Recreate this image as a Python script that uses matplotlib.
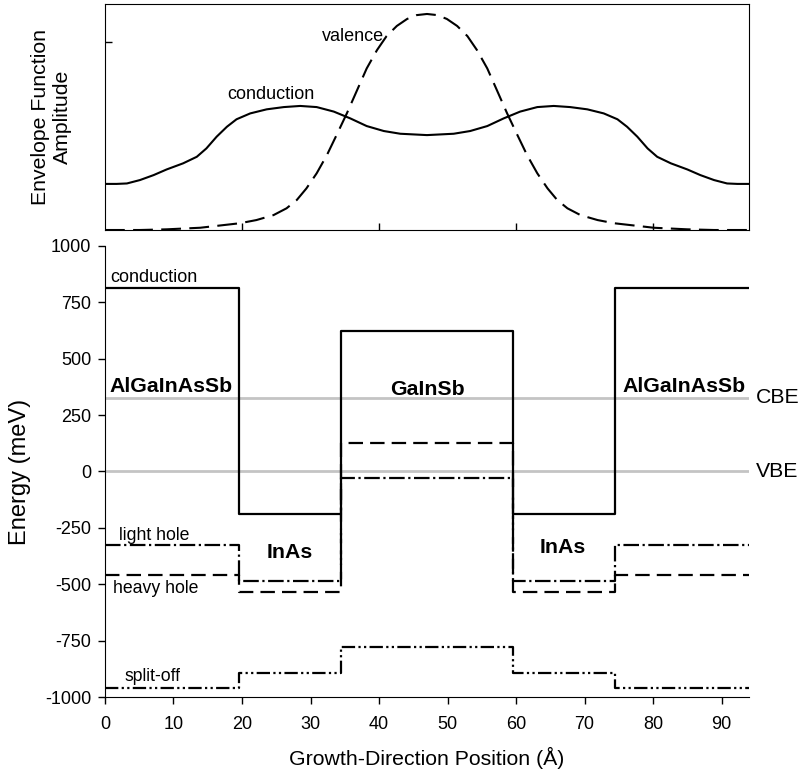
import matplotlib
matplotlib.use('Agg')
import matplotlib.pyplot as plt

plt.rcParams['font.family'] = ['Liberation Sans', 'DejaVu Sans']
plt.rcParams['axes.unicode_minus'] = False

# layer boundaries (Angstrom) and band edges (meV) per layer
bounds = [0, 19.5, 34.5, 59.5, 74.5, 94]
cond = [815, -188, 623, -188, 815]
heavy = [-459, -534, 128, -534, -459]
light = [-326, -484, -29, -484, -326]
split = [-960, -893, -778, -893, -960]
cbe = 326
vbe = 0

# envelope functions
x_cond = [0, 1.7, 3.2, 5.1, 7.1, 9.0, 11.4, 13.4, 14.8, 16.3, 17.8, 19.2, 21.2, 23.6,
          26.1, 28.5, 30.9, 33.4, 35.8, 38.2, 40.7, 43.1, 47.0, 50.9, 53.3, 55.8,
          58.2, 60.6, 63.1, 65.5, 67.9, 70.4, 72.8, 74.8, 76.2, 77.7, 79.2, 80.6,
          82.6, 85.0, 86.9, 88.9, 90.8, 92.3, 94]
a_cond = [0.204, 0.204, 0.206, 0.221, 0.243, 0.268, 0.295, 0.324, 0.361, 0.413,
          0.457, 0.490, 0.516, 0.534, 0.544, 0.549, 0.544, 0.524, 0.494, 0.460,
          0.438, 0.426, 0.420, 0.426, 0.438, 0.460, 0.494, 0.524, 0.544, 0.549,
          0.544, 0.534, 0.516, 0.490, 0.457, 0.413, 0.361, 0.324, 0.295, 0.268,
          0.243, 0.221, 0.206, 0.204, 0.204]
x_val = [0, 5.1, 9.0, 13.9, 19.7, 22.1, 24.6, 26.5, 28.0, 29.4, 30.9, 32.4, 33.8,
         35.3, 36.8, 38.2, 39.7, 41.1, 42.6, 44.1, 45.5, 47.0, 48.5, 49.9, 51.4,
         52.9, 54.3, 55.8, 57.2, 58.7, 60.2, 61.6, 63.1, 64.6, 66.0, 67.5, 69.4,
         71.9, 74.3, 80.1, 85.0, 88.9, 94]
a_val = [0.0, 0.0, 0.003, 0.010, 0.030, 0.044, 0.066, 0.096, 0.133, 0.184, 0.251,
         0.332, 0.420, 0.516, 0.619, 0.715, 0.796, 0.858, 0.903, 0.934, 0.951, 0.956,
         0.951, 0.934, 0.903, 0.858, 0.796, 0.715, 0.619, 0.516, 0.420, 0.332, 0.251,
         0.184, 0.133, 0.096, 0.066, 0.044, 0.030, 0.010, 0.003, 0.0, 0.0]

fig = plt.figure(figsize=(8.02, 7.76), dpi=100)
ax_top = fig.add_axes([0.1309, 0.7036, 0.803, 0.2912])
ax = fig.add_axes([0.1309, 0.1018, 0.803, 0.5812])

# --- upper panel: envelope functions
ax_top.plot(x_cond, a_cond, color='black', lw=1.5)
ax_top.plot(x_val, a_val, color='black', lw=1.5, linestyle=(0, (9.5, 4)))
ax_top.text(24.2, 0.60, 'conduction', fontsize=13, ha='center', va='center')
ax_top.text(36.2, 0.855, 'valence', fontsize=13, ha='center', va='center')
ax_top.set_xlim(0, 94)
ax_top.set_ylim(0, 1)
ax_top.set_xticks([20, 40, 60, 80])
ax_top.set_xticklabels([])
ax_top.set_yticks([0.832])
ax_top.set_yticklabels([])
ax_top.tick_params(direction='in', length=5, width=1)
ax_top.set_ylabel('Envelope Function\nAmplitude', fontsize=15.3, labelpad=20)

# --- lower panel: band edge profile
xs = bounds
ax.axhline(cbe, color='#c4c4c4', lw=2, zorder=1)
ax.axhline(vbe, color='#c4c4c4', lw=2, zorder=1)
ax.plot(xs, cond + [cond[-1]], drawstyle='steps-post', color='black', lw=1.6)
ax.plot(xs, heavy + [heavy[-1]], drawstyle='steps-post', color='black', lw=1.6,
        linestyle=(0, (6.5, 3.2)))
ax.plot(xs, light + [light[-1]], drawstyle='steps-post', color='black', lw=1.6,
        linestyle=(0, (7, 1.6, 1, 1.6)))
ax.plot(xs, split + [split[-1]], drawstyle='steps-post', color='black', lw=1.6,
        linestyle=(0, (6, 1.5, 1, 1.5, 1, 1.5)))

ax.text(0.8, 862, 'conduction', fontsize=13, ha='left', va='center')
ax.text(2.0, -282, 'light hole', fontsize=12.7, ha='left', va='center')
ax.text(1.1, -517, 'heavy hole', fontsize=12.7, ha='left', va='center')
ax.text(2.9, -911, 'split-off', fontsize=12.7, ha='left', va='center')
ax.text(0.7, 379, 'AlGaInAsSb', fontsize=15.3, fontweight='bold', ha='left', va='center')
ax.text(93.5, 379, 'AlGaInAsSb', fontsize=15.3, fontweight='bold', ha='right', va='center')
ax.text(47, 365, 'GaInSb', fontsize=15.3, fontweight='bold', ha='center', va='center')
ax.text(27.0, -357, 'InAs', fontsize=15.3, fontweight='bold', ha='center', va='center')
ax.text(66.8, -339, 'InAs', fontsize=15.3, fontweight='bold', ha='center', va='center')
ax.text(95, cbe, 'CBE', fontsize=15.3, ha='left', va='center', clip_on=False)
ax.text(95, vbe, 'VBE', fontsize=15.3, ha='left', va='center', clip_on=False)

ax.set_xlim(0, 94)
ax.set_ylim(-1000, 1000)
ax.set_xticks(range(0, 100, 10))
ax.set_yticks([-1000, -750, -500, -250, 0, 250, 500, 750, 1000])
ax.tick_params(direction='out', length=5, width=1, labelsize=13)
ax.tick_params(axis='x', pad=9)
ax.tick_params(axis='y', pad=5)
ax.spines['top'].set_visible(False)
ax.spines['right'].set_visible(False)
ax.set_xlabel('Growth-Direction Position (\u00c5)', fontsize=15.3, labelpad=10)
ax.set_ylabel('Energy (meV)', fontsize=17, labelpad=10)

fig.savefig('out.png', dpi=100)
